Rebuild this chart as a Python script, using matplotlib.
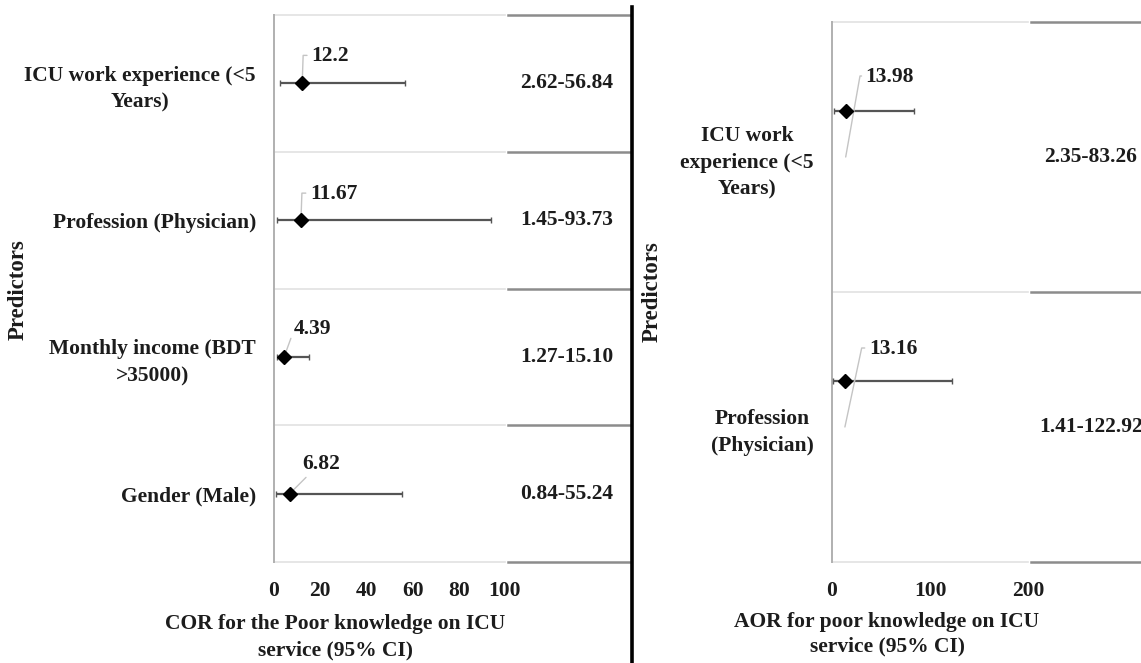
import matplotlib
matplotlib.use('Agg')
import matplotlib.pyplot as plt
from matplotlib.lines import Line2D

# COR panel (left)
cor_labels = ['ICU work experience (<5\nYears)', 'Profession (Physician)',
              'Monthly income (BDT\n>35000)', 'Gender (Male)']
cor_or = [12.2, 11.67, 4.39, 6.82]
cor_lo = [2.62, 1.45, 1.27, 0.84]
cor_hi = [56.84, 93.73, 15.10, 55.24]
cor_ci = ['2.62-56.84', '1.45-93.73', '1.27-15.10', '0.84-55.24']
cor_ticks = [0, 20, 40, 60, 80, 100]

# AOR panel (right)
aor_labels = ['ICU work\nexperience (<5\nYears)', 'Profession\n(Physician)']
aor_or = [13.98, 13.16]
aor_lo = [2.35, 1.41]
aor_hi = [83.26, 122.92]
aor_ci = ['2.35-83.26', '1.41-122.92']
aor_ticks = [0, 100, 200]

W, H = 1141, 663
FONT = 'Liberation Serif'
TXT = '#1c1c1c'
FS = 15.5
plt.rcParams['font.family'] = FONT
plt.rcParams['font.weight'] = 'bold'


def px_axes(fig, x0, y0, x1, y1):
    """axes from pixel box (top-left origin)"""
    return fig.add_axes([x0 / W, 1 - y1 / H, (x1 - x0) / W, (y1 - y0) / H])


def forest(ax, labels, ors, lo, hi, ci, ticks, xmax, shift, label_off, lead_ang,
           lead_to_center, tick_pad, ci_x):
    n = len(labels)
    centers = [n - 0.5 - i for i in range(n)]
    ys = [c + shift for c in centers]
    ax.set_xlim(0, xmax)
    ax.set_ylim(0, n)

    # band lines: light over the plot range, darker under the CI column
    for k in range(n + 1):
        ax.plot([0, ticks[-1]], [k, k], color='#e2e2e2', lw=1.2, zorder=1, clip_on=False)
        ax.plot([ticks[-1] * 1.015, xmax], [k, k], color='#8c8c8c', lw=1.8, zorder=1,
                clip_on=False)

    xerr = [[o - l for o, l in zip(ors, lo)], [h - o for o, h in zip(ors, hi)]]
    ax.errorbar(ors, ys, xerr=xerr, fmt='D', color='black', ms=7.5, ecolor='#555555',
                elinewidth=1.6, capsize=2.5, capthick=1.0, zorder=3)

    for i in range(n):
        target_y = centers[i] if lead_to_center else ys[i]
        ax.annotate(f'{ors[i]:g}', xy=(ors[i], target_y), xytext=label_off[i],
                    textcoords='offset pixels', ha='left', va='center', fontsize=FS,
                    fontweight='bold', color=TXT,
                    arrowprops=dict(arrowstyle='-', color='#c4c4c4', lw=1.0,
                                    shrinkA=1, shrinkB=0, relpos=(0, 0.55),
                                    connectionstyle=f'angle,angleA=0,angleB={lead_ang[i]},rad=0'))
        ax.text(ci_x, centers[i], ci[i], ha='center', va='center', fontsize=FS,
                fontweight='bold', color=TXT, clip_on=False)

    ax.set_yticks(centers)
    ax.set_yticklabels(labels, fontsize=FS, fontweight='bold', color=TXT)
    for t in ax.get_yticklabels():
        t.set_multialignment('center')
        t.set_linespacing(1.45)
    ax.set_xticks(ticks)
    ax.set_xticklabels([str(t) for t in ticks], fontsize=FS, fontweight='bold', color=TXT)
    ax.tick_params(axis='both', length=0)
    ax.tick_params(axis='y', pad=13)
    ax.tick_params(axis='x', pad=tick_pad)
    for s in ['top', 'right', 'bottom']:
        ax.spines[s].set_visible(False)
    ax.spines['left'].set_color('#b0b0b0')
    ax.spines['left'].set_linewidth(1.4)


fig = plt.figure(figsize=(W / 100, H / 100), dpi=100)

ax1 = px_axes(fig, 274, 15, 630, 562)
forest(ax1, cor_labels, cor_or, cor_lo, cor_hi, cor_ci, cor_ticks,
       xmax=(630 - 274) / 2.31, shift=0.0,
       label_off=[(9, 27), (9, 26), (10, 28), (12, 30)], lead_ang=[88, 88, 70, 45],
       lead_to_center=False, tick_pad=14, ci_x=(567 - 274) / 2.31)

ax2 = px_axes(fig, 832, 22, 1141, 562)
forest(ax2, aor_labels, aor_or, aor_lo, aor_hi, aor_ci, aor_ticks,
       xmax=(1141 - 832) / 0.98, shift=0.17,
       label_off=[(20, 80), (24, 78)], lead_ang=[80, 78],
       lead_to_center=True, tick_pad=14, ci_x=(1091 - 832) / 0.98)

# axis titles
fig.text(18 / W, 1 - 290 / H, 'Predictors', rotation=90, ha='center', va='center',
         fontsize=FS + 1, fontweight='bold', color=TXT)
fig.text(652 / W, 1 - 292 / H, 'Predictors', rotation=90, ha='center', va='center',
         fontsize=FS + 1, fontweight='bold', color=TXT)
fig.text(335 / W, 1 - 637 / H, 'COR for the Poor knowledge on ICU\nservice (95% CI)',
         ha='center', va='center', fontsize=FS, fontweight='bold', color=TXT,
         linespacing=1.45)
fig.text(887 / W, 1 - 634 / H, 'AOR for poor knowledge on ICU\nservice (95% CI)',
         ha='center', va='center', fontsize=FS, fontweight='bold', color=TXT,
         linespacing=1.3)

# black divider between the two panels
fig.add_artist(Line2D([632 / W, 632 / W], [1 - 662 / H, 1 - 7 / H], color='black', lw=2.6))

fig.savefig('out.png', dpi=100)
